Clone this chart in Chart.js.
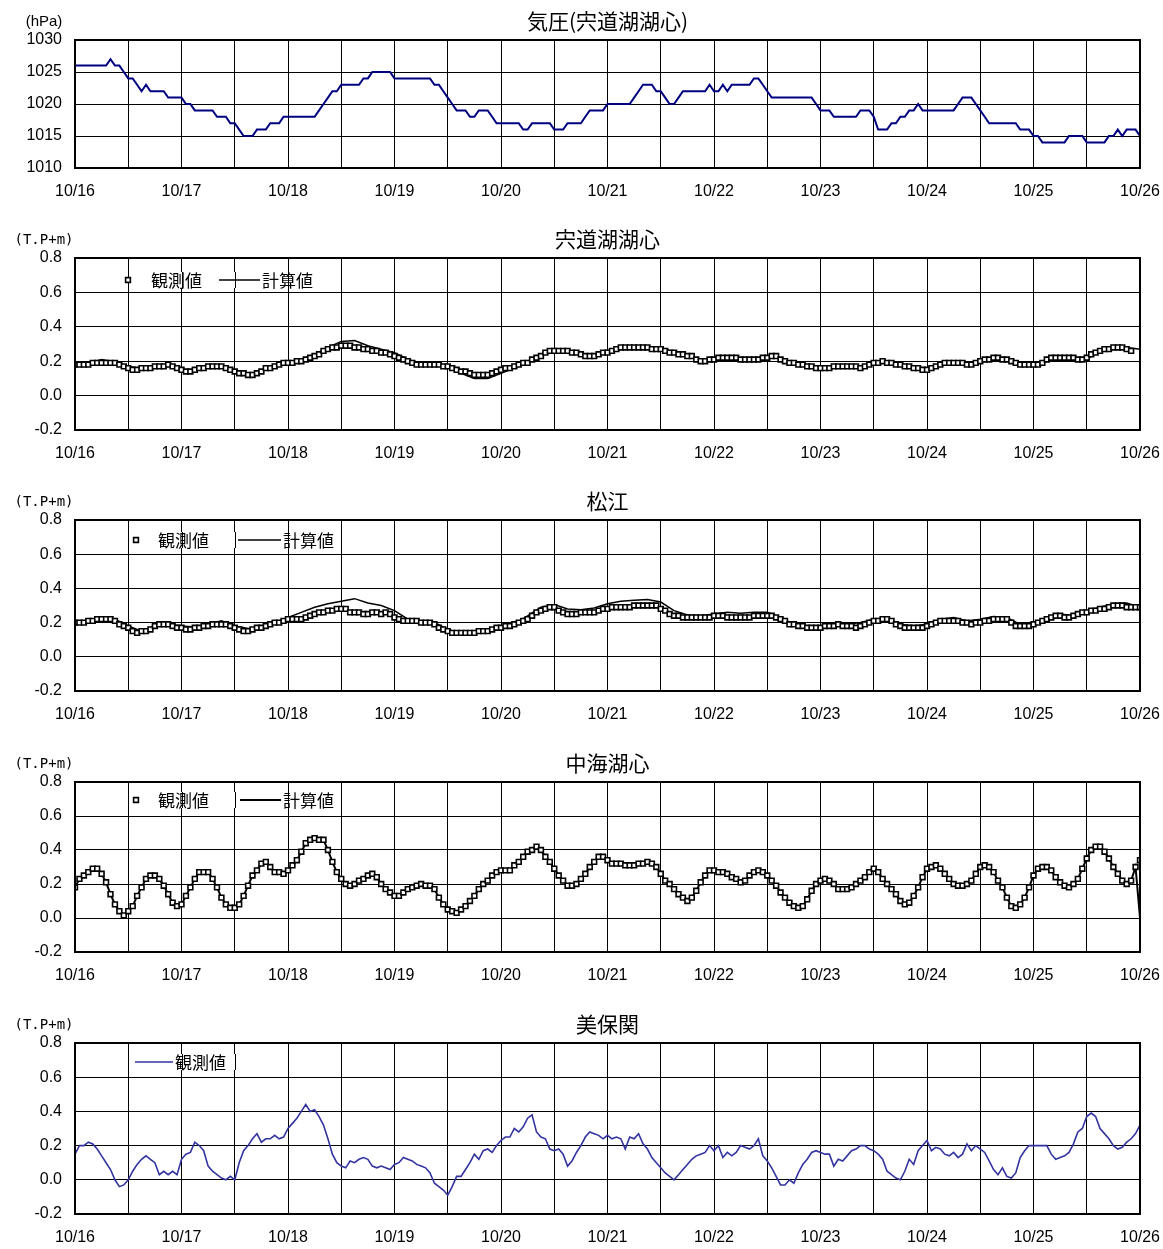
<!DOCTYPE html>
<html>
<head>
<meta charset="utf-8">
<script src="https://cdn.jsdelivr.net/npm/chart.js@4.4.0/dist/chart.umd.min.js"></script>
<style>
  body { margin: 0; background: #fff; width: 1163px; height: 1249px; overflow: hidden; position: relative; }
  canvas { position: absolute; left: 0; }
</style>
</head>
<body>
<canvas id="p0"></canvas>
<canvas id="p1"></canvas>
<canvas id="p2"></canvas>
<canvas id="p3"></canvas>
<canvas id="p4"></canvas>
<script>
// x axis: hours from 10/16 00:00, one label per day
const dayLabels = ["10/16","10/17","10/18","10/19","10/20","10/21","10/22","10/23","10/24","10/25","10/26"];

// 気圧 (hPa), hourly
const pressure = [
  1026,1026,1026,1026,1026,1026,1026,1026,1027,1026,1026,1025,1024,1024,1023,1022,1023,1022,1022,1022,1022,1021,1021,1021,
  1021,1020,1020,1019,1019,1019,1019,1019,1018,1018,1018,1017,1017,1016,1015,1015,1015,1016,1016,1016,1017,1017,1017,1018,
  1018,1018,1018,1018,1018,1018,1018,1019,1020,1021,1022,1022,1023,1023,1023,1023,1023,1024,1024,1025,1025,1025,1025,1025,
  1024,1024,1024,1024,1024,1024,1024,1024,1024,1023,1023,1022,1021,1020,1019,1019,1019,1018,1018,1019,1019,1019,1018,1017,
  1017,1017,1017,1017,1017,1016,1016,1017,1017,1017,1017,1017,1016,1016,1016,1017,1017,1017,1017,1018,1019,1019,1019,1019,
  1020,1020,1020,1020,1020,1020,1021,1022,1023,1023,1023,1022,1022,1021,1020,1020,1021,1022,1022,1022,1022,1022,1022,1023,
  1022,1022,1023,1022,1023,1023,1023,1023,1023,1024,1024,1023,1022,1021,1021,1021,1021,1021,1021,1021,1021,1021,1021,1020,
  1019,1019,1019,1018,1018,1018,1018,1018,1018,1019,1019,1019,1018,1016,1016,1016,1017,1017,1018,1018,1019,1019,1020,1019,
  1019,1019,1019,1019,1019,1019,1019,1020,1021,1021,1021,1020,1019,1018,1017,1017,1017,1017,1017,1017,1017,1016,1016,1016,
  1015,1015,1014,1014,1014,1014,1014,1014,1015,1015,1015,1015,1014,1014,1014,1014,1014,1015,1015,1016,1015,1016,1016,1016,
  1015
];

// 宍道湖湖心 (T.P+m): observed hourly, computed every 3 h
const shinjiObs = [
  0.18,0.18,0.18,0.18,0.19,0.19,0.19,0.19,0.19,0.19,0.18,0.17,0.16,0.15,0.15,0.16,0.16,0.16,0.17,0.17,0.17,0.18,0.17,0.16,
  0.15,0.14,0.14,0.15,0.16,0.16,0.17,0.17,0.17,0.17,0.16,0.15,0.14,0.13,0.13,0.12,0.12,0.13,0.14,0.16,0.16,0.17,0.18,0.19,
  0.19,0.19,0.20,0.20,0.21,0.22,0.23,0.24,0.26,0.27,0.28,0.28,0.29,0.29,0.29,0.28,0.28,0.27,0.27,0.26,0.26,0.25,0.25,0.24,
  0.23,0.22,0.21,0.20,0.19,0.18,0.18,0.18,0.18,0.18,0.18,0.17,0.17,0.16,0.15,0.14,0.14,0.13,0.12,0.12,0.12,0.12,0.13,0.14,
  0.15,0.16,0.16,0.17,0.18,0.19,0.19,0.21,0.22,0.23,0.25,0.26,0.26,0.26,0.26,0.26,0.25,0.25,0.24,0.23,0.23,0.23,0.24,0.25,
  0.25,0.26,0.27,0.28,0.28,0.28,0.28,0.28,0.28,0.28,0.27,0.27,0.27,0.26,0.25,0.25,0.24,0.24,0.23,0.23,0.21,0.20,0.20,0.21,
  0.21,0.22,0.22,0.22,0.22,0.22,0.21,0.21,0.21,0.21,0.21,0.22,0.22,0.23,0.23,0.21,0.20,0.19,0.19,0.18,0.18,0.17,0.17,0.16,
  0.16,0.16,0.16,0.17,0.17,0.17,0.17,0.17,0.17,0.16,0.17,0.18,0.19,0.19,0.20,0.19,0.19,0.18,0.18,0.17,0.17,0.16,0.16,0.15,
  0.15,0.16,0.17,0.18,0.19,0.19,0.19,0.19,0.19,0.18,0.18,0.19,0.20,0.21,0.21,0.22,0.22,0.21,0.21,0.20,0.19,0.18,0.18,0.18,
  0.18,0.18,0.19,0.21,0.22,0.22,0.22,0.22,0.22,0.22,0.21,0.21,0.22,0.24,0.25,0.26,0.27,0.27,0.28,0.28,0.28,0.27,0.26,null,
  null
];
const shinjiCalc = [
  0.18,0.19,0.21,0.195,0.17,0.155,0.16,0.17,
  0.15,0.15,0.16,0.17,0.15,0.13,0.14,0.17,
  0.19,0.21,0.24,0.28,0.315,0.32,0.29,0.27,
  0.25,0.21,0.19,0.18,0.17,0.13,0.10,0.10,
  0.13,0.16,0.20,0.24,0.27,0.265,0.24,0.23,
  0.25,0.27,0.28,0.28,0.275,0.255,0.23,0.20,
  0.21,0.22,0.21,0.21,0.22,0.22,0.19,0.17,
  0.16,0.16,0.165,0.17,0.19,0.195,0.17,0.155,
  0.15,0.18,0.195,0.19,0.20,0.22,0.215,0.18,
  0.17,0.20,0.22,0.22,0.21,0.26,0.28,0.28,
  0.27
];

// 松江
const matsueObs = [
  0.20,0.20,0.20,0.21,0.21,0.22,0.22,0.22,0.22,0.21,0.19,0.18,0.17,0.15,0.14,0.15,0.15,0.16,0.18,0.19,0.19,0.19,0.18,0.17,
  0.17,0.16,0.16,0.17,0.17,0.18,0.18,0.19,0.19,0.19,0.19,0.18,0.17,0.16,0.15,0.15,0.16,0.17,0.17,0.18,0.19,0.20,0.20,0.21,
  0.22,0.22,0.22,0.22,0.23,0.24,0.25,0.26,0.26,0.27,0.27,0.28,0.28,0.28,0.26,0.26,0.26,0.25,0.25,0.26,0.26,0.25,0.26,0.25,
  0.23,0.22,0.21,0.21,0.21,0.21,0.20,0.20,0.20,0.19,0.17,0.16,0.15,0.14,0.14,0.14,0.14,0.14,0.14,0.15,0.15,0.15,0.16,0.17,
  0.17,0.18,0.18,0.19,0.20,0.21,0.22,0.24,0.26,0.27,0.28,0.29,0.29,0.27,0.26,0.25,0.25,0.25,0.26,0.26,0.26,0.26,0.27,0.28,
  0.28,0.29,0.29,0.29,0.29,0.29,0.30,0.30,0.30,0.30,0.30,0.30,0.28,0.27,0.25,0.24,0.24,0.23,0.23,0.23,0.23,0.23,0.23,0.23,
  0.24,0.24,0.24,0.23,0.23,0.23,0.23,0.23,0.23,0.24,0.24,0.24,0.24,0.24,0.23,0.22,0.21,0.19,0.19,0.18,0.18,0.17,0.17,0.17,
  0.17,0.18,0.18,0.18,0.19,0.18,0.18,0.18,0.17,0.18,0.19,0.20,0.21,0.21,0.22,0.22,0.21,0.19,0.18,0.17,0.17,0.17,0.17,0.17,
  0.18,0.19,0.20,0.21,0.21,0.21,0.21,0.21,0.20,0.20,0.19,0.20,0.20,0.21,0.21,0.22,0.22,0.22,0.22,0.20,0.18,0.18,0.18,0.18,
  0.19,0.20,0.21,0.22,0.23,0.24,0.24,0.23,0.23,0.24,0.25,0.26,0.26,0.27,0.27,0.28,0.28,0.29,0.30,0.30,0.30,0.29,0.29,0.29,
  0.29
];
const matsueCalc = [
  0.20,0.21,0.225,0.22,0.18,0.15,0.18,0.19,
  0.18,0.175,0.19,0.21,0.18,0.165,0.17,0.20,
  0.23,0.26,0.29,0.31,0.325,0.34,0.315,0.30,
  0.27,0.22,0.21,0.20,0.16,0.14,0.14,0.15,
  0.17,0.19,0.24,0.29,0.305,0.28,0.275,0.285,
  0.31,0.325,0.33,0.335,0.32,0.27,0.245,0.24,
  0.25,0.26,0.255,0.26,0.26,0.23,0.19,0.18,
  0.18,0.19,0.19,0.20,0.22,0.23,0.19,0.18,
  0.19,0.22,0.23,0.21,0.22,0.235,0.23,0.19,
  0.19,0.23,0.25,0.24,0.27,0.29,0.31,0.315,
  0.29
];

// 中海湖心
const nakaumiObs = [
  0.18,0.23,0.25,0.27,0.29,0.29,0.26,0.21,0.14,0.08,0.04,0.015,0.04,0.07,0.13,0.18,0.23,0.25,0.25,0.23,0.19,0.14,0.09,0.07,
  0.08,0.13,0.18,0.23,0.27,0.27,0.27,0.23,0.18,0.12,0.08,0.06,0.06,0.08,0.13,0.19,0.25,0.28,0.32,0.33,0.30,0.27,0.27,0.26,
  0.28,0.31,0.34,0.39,0.44,0.46,0.47,0.46,0.46,0.40,0.33,0.27,0.23,0.20,0.19,0.20,0.22,0.23,0.25,0.26,0.24,0.20,0.17,0.15,
  0.13,0.13,0.15,0.17,0.18,0.19,0.20,0.19,0.19,0.17,0.12,0.08,0.05,0.04,0.03,0.05,0.07,0.10,0.13,0.17,0.20,0.22,0.25,0.27,
  0.28,0.28,0.28,0.31,0.33,0.36,0.39,0.40,0.42,0.40,0.36,0.33,0.29,0.25,0.22,0.19,0.19,0.20,0.23,0.26,0.30,0.33,0.36,0.36,
  0.34,0.32,0.32,0.32,0.31,0.31,0.31,0.32,0.32,0.33,0.32,0.30,0.26,0.22,0.20,0.17,0.14,0.12,0.10,0.12,0.16,0.21,0.25,0.28,
  0.28,0.27,0.27,0.26,0.24,0.23,0.21,0.22,0.25,0.27,0.28,0.27,0.25,0.22,0.19,0.15,0.12,0.09,0.07,0.06,0.07,0.11,0.16,0.20,
  0.22,0.23,0.22,0.20,0.17,0.17,0.17,0.18,0.20,0.22,0.24,0.27,0.29,0.27,0.23,0.20,0.17,0.14,0.10,0.08,0.09,0.13,0.18,0.24,
  0.29,0.30,0.31,0.29,0.26,0.23,0.20,0.19,0.19,0.20,0.22,0.26,0.30,0.31,0.30,0.27,0.22,0.18,0.12,0.07,0.06,0.08,0.12,0.18,
  0.25,0.29,0.30,0.30,0.28,0.24,0.21,0.19,0.18,0.20,0.23,0.29,0.35,0.40,0.42,0.42,0.39,0.35,0.30,0.26,0.22,0.20,0.22,0.30,
  0.34
];
const nakaumiCalc = [
  0.18,0.23,0.25,0.27,0.29,0.29,0.26,0.21,0.14,0.08,0.04,0.015,0.04,0.07,0.13,0.18,0.23,0.25,0.25,0.23,0.19,0.14,0.09,0.07,
  0.08,0.13,0.18,0.23,0.27,0.27,0.27,0.23,0.18,0.12,0.08,0.06,0.06,0.08,0.13,0.19,0.25,0.28,0.32,0.33,0.30,0.27,0.27,0.26,
  0.28,0.31,0.34,0.39,0.44,0.46,0.47,0.46,0.46,0.40,0.33,0.27,0.23,0.20,0.19,0.20,0.22,0.23,0.25,0.26,0.24,0.20,0.17,0.15,
  0.13,0.13,0.15,0.17,0.18,0.19,0.20,0.19,0.19,0.17,0.12,0.08,0.05,0.04,0.03,0.05,0.07,0.10,0.13,0.17,0.20,0.22,0.25,0.27,
  0.28,0.28,0.28,0.31,0.33,0.36,0.39,0.40,0.42,0.40,0.36,0.33,0.29,0.25,0.22,0.19,0.19,0.20,0.23,0.26,0.30,0.33,0.36,0.36,
  0.34,0.32,0.32,0.32,0.31,0.31,0.31,0.32,0.32,0.33,0.32,0.30,0.26,0.22,0.20,0.17,0.14,0.12,0.10,0.12,0.16,0.21,0.25,0.28,
  0.28,0.27,0.27,0.26,0.24,0.23,0.21,0.22,0.25,0.27,0.28,0.27,0.25,0.22,0.19,0.15,0.12,0.09,0.07,0.06,0.07,0.11,0.16,0.20,
  0.22,0.23,0.22,0.20,0.17,0.17,0.17,0.18,0.20,0.22,0.24,0.27,0.29,0.27,0.23,0.20,0.17,0.14,0.10,0.08,0.09,0.13,0.18,0.24,
  0.29,0.30,0.31,0.29,0.26,0.23,0.20,0.19,0.19,0.20,0.22,0.26,0.30,0.31,0.30,0.27,0.22,0.18,0.12,0.07,0.06,0.08,0.12,0.18,
  0.25,0.29,0.30,0.30,0.28,0.24,0.21,0.19,0.18,0.20,0.23,0.29,0.35,0.40,0.42,0.42,0.39,0.35,0.30,0.26,0.22,0.20,0.22,0.30,
  0.00
];

// 美保関, observed hourly
const mihoObs = [
  0.15,0.20,0.20,0.22,0.21,0.18,0.14,0.10,0.06,0.00,-0.04,-0.03,0.00,0.05,0.09,0.12,0.14,0.12,0.10,0.03,0.05,0.03,0.05,0.03,
  0.12,0.15,0.16,0.22,0.20,0.17,0.08,0.05,0.03,0.01,0.00,0.02,0.00,0.10,0.17,0.20,0.24,0.27,0.22,0.24,0.24,0.26,0.24,0.25,
  0.30,0.33,0.36,0.40,0.44,0.40,0.41,0.37,0.32,0.24,0.15,0.10,0.08,0.07,0.11,0.10,0.12,0.13,0.12,0.08,0.07,0.08,0.07,0.06,
  0.09,0.10,0.13,0.12,0.11,0.09,0.08,0.07,0.04,-0.02,-0.04,-0.06,-0.09,-0.04,0.02,0.02,0.06,0.10,0.15,0.12,0.17,0.18,0.16,0.20,
  0.23,0.25,0.25,0.30,0.28,0.31,0.36,0.38,0.28,0.25,0.24,0.18,0.17,0.18,0.15,0.08,0.11,0.16,0.20,0.25,0.28,0.27,0.26,0.24,
  0.26,0.24,0.25,0.24,0.18,0.25,0.24,0.27,0.21,0.18,0.13,0.10,0.07,0.04,0.02,0.00,0.03,0.06,0.09,0.12,0.14,0.15,0.16,0.20,
  0.17,0.20,0.13,0.16,0.14,0.16,0.20,0.19,0.18,0.20,0.24,0.14,0.11,0.07,0.02,-0.03,-0.03,0.00,-0.02,0.04,0.09,0.12,0.16,0.17,
  0.16,0.15,0.15,0.08,0.12,0.11,0.14,0.17,0.18,0.20,0.20,0.18,0.17,0.15,0.12,0.05,0.03,0.01,0.00,0.05,0.12,0.09,0.17,0.20,
  0.23,0.17,0.19,0.18,0.15,0.14,0.16,0.13,0.15,0.21,0.17,0.20,0.18,0.16,0.11,0.06,0.03,0.07,0.02,0.01,0.04,0.13,0.17,0.20,
  0.20,0.20,0.20,0.20,0.15,0.12,0.13,0.14,0.16,0.21,0.28,0.30,0.37,0.39,0.37,0.30,0.27,0.24,0.20,0.18,0.19,0.22,0.24,0.27,
  0.32
];

const W = 1163, AREA_L = 75, AREA_R = 1140, PAD_TOP = 40, XAX_H = 42;
const NUM_FONT = { family: '"Liberation Sans", Arial, sans-serif', size: 16 };
const JP_FONT = '"Noto Sans CJK JP", sans-serif';

function series(arr, step) {
  return arr.map((v, i) => ({ x: i * step, y: v }));
}

function obsSet(label, arr) {
  return {
    label: label, data: series(arr, 1), showLine: false,
    pointStyle: 'rect', pointRadius: 3.4, pointBorderWidth: 1.6,
    pointBorderColor: '#000', pointBackgroundColor: '#fff'
  };
}

function lineSet(label, arr, step, color, width) {
  return {
    label: label, data: series(arr, step), borderColor: color, borderWidth: width,
    pointRadius: 0, tension: 0, spanGaps: false
  };
}

// frame, title, unit and legend are drawn around the chart area
const decoPlugin = {
  id: 'deco',
  beforeDatasetsDraw(chart, args, opts) {
    const lg = opts.legend;
    if (!lg) return;
    const ctx = chart.ctx, a = chart.chartArea, xs = chart.scales.x;
    const y = a.top + lg.dy;
    ctx.save();
    ctx.fillStyle = '#fff';
    ctx.fillRect(lg.boxL, y - 8, lg.boxR - lg.boxL, 16);
    // vertical grid lines run through the legend strip
    ctx.strokeStyle = '#000';
    ctx.lineWidth = 1;
    xs.ticks.forEach(t => {
      const px = Math.round(xs.getPixelForValue(t.value)) + 0.5;
      if (px > lg.boxL && px < lg.boxR) {
        ctx.beginPath();
        ctx.moveTo(px, y - 8);
        ctx.lineTo(px, y + 8);
        ctx.stroke();
      }
    });
    ctx.font = '17px ' + JP_FONT;
    ctx.textBaseline = 'middle';
    lg.items.forEach(it => {
      const ds = chart.data.datasets[it.ds];
      if (it.x2 === undefined) {
        ctx.lineWidth = ds.pointBorderWidth;
        ctx.strokeStyle = ds.pointBorderColor;
        ctx.fillStyle = ds.pointBackgroundColor;
        ctx.beginPath();
        ctx.rect(it.x - 2.4, y - 2.4, 4.8, 4.8);
        ctx.fill();
        ctx.stroke();
      } else {
        ctx.lineWidth = ds.borderWidth;
        ctx.strokeStyle = ds.borderColor;
        ctx.beginPath();
        ctx.moveTo(it.x, y);
        ctx.lineTo(it.x2, y);
        ctx.stroke();
      }
      ctx.fillStyle = '#000';
      ctx.textAlign = 'left';
      ctx.fillText(ds.label, it.tx, y + 1);
    });
    ctx.restore();
  },
  afterDraw(chart, args, opts) {
    const ctx = chart.ctx, a = chart.chartArea;
    ctx.save();
    ctx.strokeStyle = '#000';
    ctx.lineWidth = 2;
    ctx.strokeRect(a.left, a.top, a.right - a.left, a.bottom - a.top);
    ctx.fillStyle = '#000';
    ctx.textBaseline = 'middle';
    ctx.textAlign = 'center';
    ctx.font = '21px ' + JP_FONT;
    ctx.fillText(opts.title, (a.left + a.right) / 2, a.top - 19);
    ctx.font = opts.unitFont;
    ctx.fillText(opts.unit, 44, a.top - 18);
    ctx.restore();
  }
};

function makePanel(id, plotTop, plotBottom, datasets, yOpts, deco) {
  const cv = document.getElementById(id);
  const h = plotBottom - plotTop + PAD_TOP + XAX_H;
  cv.width = W;
  cv.height = h;
  cv.style.top = (plotTop - PAD_TOP) + 'px';
  new Chart(cv, {
    type: 'line',
    data: { datasets: datasets },
    plugins: [decoPlugin],
    options: {
      responsive: false,
      animation: false,
      layout: { padding: { top: PAD_TOP, right: W - AREA_R, left: 0, bottom: 0 } },
      plugins: { legend: { display: false }, tooltip: { enabled: false }, deco: deco },
      scales: {
        x: {
          type: 'linear', min: 0, max: 240,
          afterFit: s => { s.height = XAX_H; s.paddingLeft = 0; s.paddingRight = 0; },
          grid: { color: '#000', lineWidth: 1, drawTicks: false },
          border: { display: false },
          ticks: {
            stepSize: 12, autoSkip: false, maxRotation: 0, padding: 14,
            color: '#000', font: NUM_FONT,
            callback: v => (v % 24 === 0 ? dayLabels[v / 24] : '')
          }
        },
        y: {
          min: yOpts.min, max: yOpts.max,
          afterFit: s => { s.width = AREA_L; },
          grid: { color: '#000', lineWidth: 1, drawTicks: false },
          border: { display: false },
          ticks: {
            stepSize: yOpts.step, padding: 13, color: '#000', font: NUM_FONT,
            callback: yOpts.label
          }
        }
      }
    }
  });
}

const levelAxis = {
  min: -0.2, max: 0.8, step: 0.1,
  label: v => { const k = Math.round(v * 10); return k % 2 === 0 ? (k / 10).toFixed(1) : ''; }
};
const unitMono = '14px "DejaVu Sans Mono", monospace';

makePanel('p0', 40, 168,
  [lineSet('気圧', pressure, 1, '#000080', 2)],
  { min: 1010, max: 1030, step: 5, label: v => String(v) },
  { title: '気圧(宍道湖湖心)', unit: '(hPa)', unitFont: '15px "Liberation Sans", Arial, sans-serif' });

makePanel('p1', 258, 430,
  [obsSet('観測値', shinjiObs), lineSet('計算値', shinjiCalc, 3, '#000', 1.5)],
  levelAxis,
  { title: '宍道湖湖心', unit: '(T.P+m)', unitFont: unitMono,
    legend: { dy: 22, boxL: 100, boxR: 322, items: [
      { ds: 0, x: 128, tx: 151 }, { ds: 1, x: 219, x2: 260, tx: 262 } ] } });

makePanel('p2', 520, 691,
  [obsSet('観測値', matsueObs), lineSet('計算値', matsueCalc, 3, '#000', 1.5)],
  levelAxis,
  { title: '松江', unit: '(T.P+m)', unitFont: unitMono,
    legend: { dy: 20, boxL: 100, boxR: 348, items: [
      { ds: 0, x: 136, tx: 158 }, { ds: 1, x: 238, x2: 281, tx: 283 } ] } });

makePanel('p3', 782, 952,
  [obsSet('観測値', nakaumiObs), lineSet('計算値', nakaumiCalc, 1, '#000', 2)],
  levelAxis,
  { title: '中海湖心', unit: '(T.P+m)', unitFont: unitMono,
    legend: { dy: 18, boxL: 100, boxR: 348, items: [
      { ds: 0, x: 136, tx: 158 }, { ds: 1, x: 240, x2: 281, tx: 283 } ] } });

makePanel('p4', 1043, 1214,
  [lineSet('観測値', mihoObs, 1, '#3333a0', 1.6)],
  levelAxis,
  { title: '美保関', unit: '(T.P+m)', unitFont: unitMono,
    legend: { dy: 19, boxL: 105, boxR: 290, items: [
      { ds: 0, x: 135, x2: 173, tx: 175 } ] } });
</script>
</body>
</html>
